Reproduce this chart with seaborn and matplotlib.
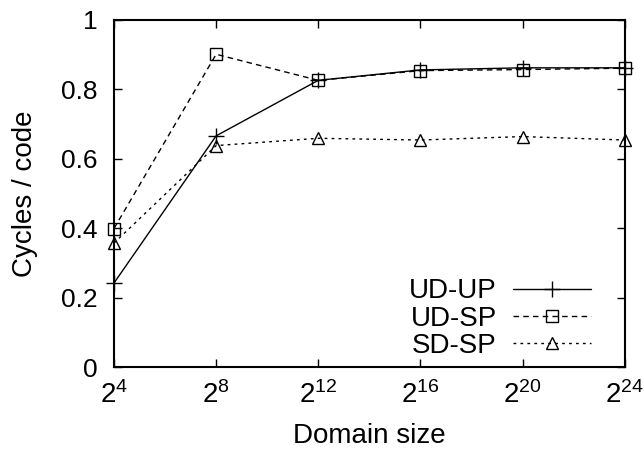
import matplotlib
matplotlib.use('Agg')
import matplotlib.pyplot as plt
import seaborn as sns

# domain size exponents (2^k)
exps = [4, 8, 12, 16, 20, 24]
ud_up = [0.242, 0.666, 0.826, 0.856, 0.862, 0.862]
ud_sp = [0.399, 0.901, 0.826, 0.854, 0.857, 0.861]
sd_sp = [0.357, 0.638, 0.659, 0.654, 0.664, 0.654]
y_ticks = [0, 0.2, 0.4, 0.6, 0.8, 1]
y_labels = ['0', '0.2', '0.4', '0.6', '0.8', '1']

sns.set_style('ticks')
plt.rcParams['font.family'] = ['Liberation Sans', 'DejaVu Sans']
plt.rcParams['mathtext.fontset'] = 'custom'
plt.rcParams['mathtext.rm'] = 'Liberation Sans'
plt.rcParams['mathtext.it'] = 'Liberation Sans'
plt.rcParams['text.color'] = 'black'
plt.rcParams['axes.labelcolor'] = 'black'
plt.rcParams['xtick.color'] = 'black'
plt.rcParams['ytick.color'] = 'black'

fig = plt.figure(figsize=(6.44, 4.49), dpi=100)
ax = fig.add_axes([0.177, 0.1826, 0.793, 0.773])

sns.lineplot(x=exps, y=ud_up, ax=ax, color='black', linestyle='-', lw=1,
             marker='+', markersize=11, markeredgecolor='black', markeredgewidth=1,
             label='UD-UP', clip_on=False)
sns.lineplot(x=exps, y=ud_sp, ax=ax, color='black', linestyle=(0, (4, 3)), lw=1,
             marker='s', markersize=8.5, markerfacecolor='none', markeredgecolor='black',
             markeredgewidth=1, label='UD-SP', clip_on=False)
sns.lineplot(x=exps, y=sd_sp, ax=ax, color='black', linestyle=(0, (2, 3)), lw=1,
             marker='^', markersize=9, markerfacecolor='none', markeredgecolor='black',
             markeredgewidth=1, label='SD-SP', clip_on=False)

ax.set_xlim(4, 24)
ax.set_ylim(0, 1)
ax.set_xticks(exps)
ax.set_xticklabels(['$2^{%d}$' % e for e in exps], fontsize=20)
ax.set_yticks(y_ticks)
ax.set_yticklabels(y_labels, fontsize=19)
ax.tick_params(direction='in', length=6, width=1, top=True, right=True)
ax.tick_params(axis='y', pad=12)
ax.tick_params(axis='x', pad=10)
for s in ax.spines.values():
    s.set_linewidth(1.5)
    s.set_color('black')

ax.set_xlabel('Domain size', fontsize=20, labelpad=10)
ax.set_ylabel('Cycles / code', fontsize=20, labelpad=16)

ax.legend(loc='lower right', bbox_to_anchor=(0.967, -0.025), frameon=False,
          markerfirst=False, fontsize=20, handlelength=2.8, handletextpad=0.6,
          labelspacing=0.05, borderaxespad=0.2)

fig.savefig('out.png', dpi=100)
